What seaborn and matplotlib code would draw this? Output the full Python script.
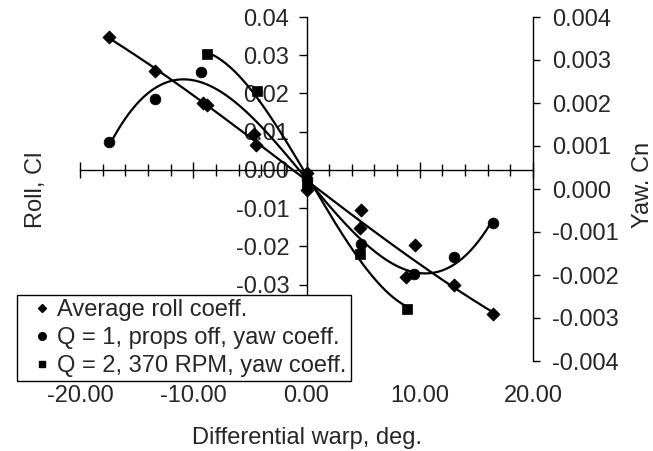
import numpy as np
import pandas as pd
import matplotlib
matplotlib.use("Agg")
import matplotlib.pyplot as plt
import seaborn as sns
from matplotlib.ticker import MultipleLocator, FixedLocator, FormatStrFormatter
from matplotlib.lines import Line2D

# ---- data ----
roll_x = [-17.4, -13.4, -9.1, -8.8, -4.6, -4.5, 0.0, 0.0, 4.7, 4.8, 8.8, 9.6, 13.0, 16.5]
roll_y = [0.0348, 0.0258, 0.0174, 0.0170, 0.0094, 0.0066, -0.0008, -0.0052,
          -0.0151, -0.0104, -0.0281, -0.0196, -0.0300, -0.0376]
yaw1_x = [-17.4, -13.4, -9.3, 0.0, 4.8, 9.5, 13.0, 16.5]
yaw1_y = [0.00109, 0.00210, 0.00271, 0.00023, -0.00129, -0.00197, -0.00157, -0.00078]
yaw2_x = [-8.8, -4.4, 0.0, 4.7, 8.9]
yaw2_y = [0.00314, 0.00229, 0.00010, -0.00150, -0.00278]

labels = ["Average roll coeff.", "Q = 1, props off, yaw coeff.", "Q = 2, 370 RPM, yaw coeff."]
x_major = [-20, -10, 0, 10, 20]
left_ticks = [-0.03, -0.02, -0.01, 0.0, 0.01, 0.02, 0.03, 0.04]
right_ticks = [-0.004, -0.003, -0.002, -0.001, 0.0, 0.001, 0.002, 0.003, 0.004]

sns.set_style("white")
plt.rcParams["font.family"] = ["Liberation Sans", "DejaVu Sans"]
plt.rcParams["axes.unicode_minus"] = False
FS = 17

W, H = 653, 451
fig = plt.figure(figsize=(W / 100, H / 100), dpi=100)
fig.patch.set_facecolor("white")
L, R, T, B = 80, 533, 17, 361
ax = fig.add_axes([L / W, 1 - B / H, (R - L) / W, (B - T) / H])
ax.set_facecolor("none")
ax2 = ax.twinx()


def trend(xs, ys, deg=3):
    c = np.polyfit(xs, ys, deg)
    xx = np.linspace(min(xs), max(xs), 200)
    return pd.DataFrame({"x": xx, "y": np.polyval(c, xx)})


lw = 1.6
t_roll = trend(roll_x, roll_y)
t_y1 = trend(yaw1_x, yaw1_y)
t_y2 = trend(yaw2_x, yaw2_y)

sns.lineplot(data=t_roll, x="x", y="y", ax=ax, color="black", lw=lw, sort=False)
sns.scatterplot(x=roll_x, y=roll_y, ax=ax, marker="D", s=45, color="black", edgecolor="black", linewidth=0.5, zorder=5)

sns.lineplot(data=t_y1, x="x", y="y", ax=ax2, color="black", lw=lw, sort=False)
sns.lineplot(data=t_y2, x="x", y="y", ax=ax2, color="black", lw=lw, sort=False)
sns.scatterplot(x=yaw1_x, y=yaw1_y, ax=ax2, marker="o", s=60, color="black", edgecolor="black", linewidth=0.5, zorder=5)
sns.scatterplot(x=yaw2_x, y=yaw2_y, ax=ax2, marker="s", s=45, color="black", edgecolor="black", linewidth=0.5, zorder=5)

# axes limits
ax.set_xlim(-20, 20)
ax.set_ylim(-0.05, 0.04)
ax2.set_ylim(-0.004, 0.004)

# left axis / spines
for s in ["top", "right"]:
    ax.spines[s].set_visible(False)
ax.spines["left"].set_position(("data", 0))
ax.spines["bottom"].set_position(("data", 0))
for s in ["left", "bottom"]:
    ax.spines[s].set_color("black")
    ax.spines[s].set_linewidth(1.0)

ax.xaxis.set_major_locator(MultipleLocator(10))
ax.xaxis.set_minor_locator(MultipleLocator(2))
ax.tick_params(axis="x", which="major", direction="inout", length=12, width=1.0, color="black", labelbottom=False, bottom=True)
ax.tick_params(axis="x", which="minor", direction="inout", length=8, width=1.0, color="black", bottom=True)

ax.yaxis.set_major_locator(FixedLocator(left_ticks))
ax.yaxis.set_major_formatter(FormatStrFormatter("%.2f"))
ax.tick_params(axis="y", which="major", direction="out", length=5.5, width=1.0, color="black", labelsize=FS, pad=7, left=True)
ax.set_xlabel("")
ax.set_ylabel("")

# right axis
for s in ["top", "left", "bottom"]:
    ax2.spines[s].set_visible(False)
ax2.spines["right"].set_color("black")
ax2.spines["right"].set_linewidth(1.0)
ax2.yaxis.set_major_locator(FixedLocator(right_ticks))
ax2.yaxis.set_major_formatter(FormatStrFormatter("%.3f"))
ax2.tick_params(axis="y", which="major", direction="out", length=5, width=1.0, color="black", labelsize=FS, pad=9, right=True)
ax2.set_ylabel("")
ax2.set_xlabel("")

# x tick labels at bottom of plot area
sec = ax.secondary_xaxis(0)
sec.spines["bottom"].set_visible(False)
sec.set_xticks(x_major)
sec.xaxis.set_major_formatter(FormatStrFormatter("%.2f"))
sec.tick_params(axis="x", length=0, labelsize=FS, pad=17)
sec.xaxis.set_minor_locator(FixedLocator([]))

fig.text(307 / W, 1 - 438 / H, "Differential warp, deg.", ha="center", va="center", fontsize=FS)
fig.text(36 / W, 1 - 190 / H, "Roll, Cl", rotation=90, ha="center", va="center", fontsize=FS)
fig.text(643 / W, 1 - 185 / H, "Yaw. Cn", rotation=90, ha="center", va="center", fontsize=FS)

handles = [
    Line2D([], [], ls="none", marker="D", ms=4.5, color="black"),
    Line2D([], [], ls="none", marker="o", ms=5.5, color="black"),
    Line2D([], [], ls="none", marker="s", ms=5, color="black"),
]
leg = fig.legend(handles, labels, loc="upper left", bbox_to_anchor=(17 / W, 1 - 295 / H),
                 bbox_transform=fig.transFigure, frameon=True, fancybox=False,
                 edgecolor="black", framealpha=1, borderaxespad=0, fontsize=FS,
                 handlelength=1.78, handletextpad=-0.25, borderpad=0.18, labelspacing=0.25)
leg.get_frame().set_linewidth(1.0)

fig.savefig("out.png", dpi=100, facecolor="white")
